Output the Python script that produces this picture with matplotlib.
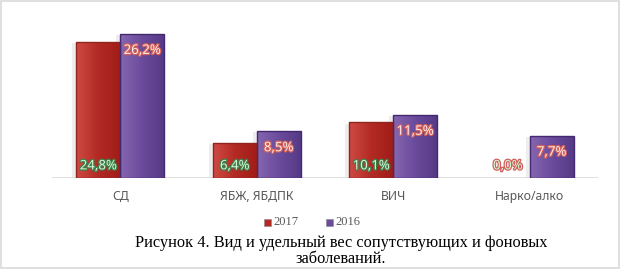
import numpy as np
import matplotlib
matplotlib.use("Agg")
import matplotlib.pyplot as plt
import matplotlib.patheffects as pe
from matplotlib.colors import LinearSegmentedColormap
from matplotlib.patches import Rectangle

categories = ["СД", "ЯБЖ, ЯБДПК", "ВИЧ", "Нарко/алко"]
vals_2017 = [24.8, 6.4, 10.1, 0.0]
vals_2016 = [26.2, 8.5, 11.5, 7.7]
labels_2017 = ["24,8%", "6,4%", "10,1%", "0,0%"]
labels_2016 = ["26,2%", "8,5%", "11,5%", "7,7%"]
series_names = ["2017", "2016"]

red_cmap = LinearSegmentedColormap.from_list("r", ["#cf4a44", "#b32a24", "#a21d18"])
pur_cmap = LinearSegmentedColormap.from_list("p", ["#8566b0", "#6b4b9c", "#563a86"])

fig = plt.figure(figsize=(6.23, 2.70), dpi=100)
fig.patch.set_facecolor("white")
fig.patches.append(Rectangle((0.002, 0.006), 0.992, 0.99, transform=fig.transFigure,
                             fill=False, edgecolor="#d9d9d9", lw=1.2))

ax = fig.add_axes([52 / 623, (270 - 178) / 270, 546 / 623, 165 / 270])
ax.set_xlim(-0.5, 3.5)
ax.set_ylim(0, 30)
ax.axis("off")
ax.axhline(0, color="#d9d9d9", lw=1.2)

w = 0.322
x = np.arange(len(categories))
grad = np.linspace(0, 1, 64).reshape(1, -1)


def draw_bars(xs, vals, cmap, edge):
    for xi, v in zip(xs, vals):
        if v <= 0:
            continue
        # soft shadow
        ax.add_patch(Rectangle((xi - w / 2 - 0.03, 0), w, v - 0.2, facecolor="#000000",
                               alpha=0.07, lw=0, zorder=1))
        r = Rectangle((xi - w / 2, 0), w, v, facecolor="none", edgecolor=edge, lw=1.0, zorder=3)
        ax.add_patch(r)
        im = ax.imshow(grad, cmap=cmap, aspect="auto", zorder=2,
                       extent=(xi - w / 2, xi + w / 2, 0, v))
        im.set_clip_path(r)


draw_bars(x - w / 2, vals_2017, red_cmap, "#8e2520")
draw_bars(x + w / 2, vals_2016, pur_cmap, "#45296f")

green_fx = [pe.withStroke(linewidth=1.8, foreground="#3f7d4a")]
red_fx = [pe.withStroke(linewidth=1.8, foreground="#d0605a")]
for i in range(len(categories)):
    ax.text(x[i] - w / 2, 2.2, labels_2017[i], ha="center", va="center", fontsize=9.5,
            fontweight="bold", color="#d6f7d8", family="Noto Sans",
            path_effects=red_fx if vals_2017[i] == 0 else green_fx, zorder=5)
    ax.text(x[i] + w / 2, vals_2016[i] - 3.0, labels_2016[i], ha="center", va="center",
            fontsize=9.5, fontweight="bold", color="#ffeaea", family="Noto Sans",
            path_effects=red_fx, zorder=5)
    ax.text(x[i], -3.3, categories[i], ha="center", va="center", fontsize=8.8,
            color="#595959", family="Noto Sans", clip_on=False)

# legend
for name, c, lx in zip(series_names, ["#b32a24", "#6b4b9c"], [268, 330]):
    fig.patches.append(Rectangle(((lx - 4) / 623, 1 - 226 / 270), 7 / 623, 7 / 270,
                                 transform=fig.transFigure, facecolor=c, edgecolor="#888888", lw=0.4))
    fig.text((lx + 5) / 623, 1 - 222 / 270, name, ha="left", va="center", fontsize=9,
             family="Liberation Serif", color="#595959")

fig.text(341 / 623, 1 - 243 / 270, "Рисунок 4. Вид и удельный вес сопутствующих и фоновых",
         ha="center", va="center", fontsize=11.8, family="Liberation Serif")
fig.text(341 / 623, 1 - 259 / 270, "заболеваний.", ha="center", va="center",
         fontsize=11.8, family="Liberation Serif")

fig.savefig("out.png", dpi=100)
